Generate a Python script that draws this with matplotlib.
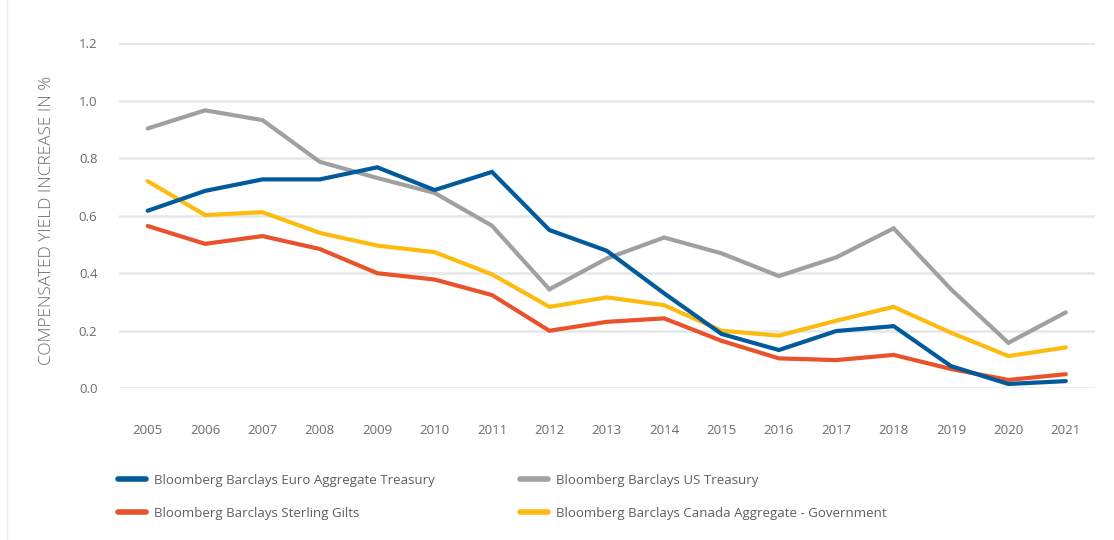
import matplotlib
matplotlib.use("Agg")
import matplotlib.pyplot as plt
from matplotlib.lines import Line2D

plt.rcParams['font.family'] = ['Open Sans', 'DejaVu Sans']

years = [str(y) for y in range(2005, 2022)]
euro = [0.617, 0.686, 0.726, 0.726, 0.768, 0.689, 0.752, 0.550, 0.478, 0.330,
        0.189, 0.133, 0.199, 0.216, 0.077, 0.015, 0.025]
us = [0.903, 0.966, 0.932, 0.787, 0.731, 0.679, 0.565, 0.344, 0.451, 0.524,
      0.469, 0.390, 0.455, 0.556, 0.344, 0.158, 0.264]
sterling = [0.564, 0.502, 0.529, 0.484, 0.400, 0.378, 0.324, 0.200, 0.231, 0.243,
            0.165, 0.104, 0.098, 0.116, 0.067, 0.029, 0.049]
canada = [0.720, 0.602, 0.612, 0.540, 0.496, 0.473, 0.396, 0.283, 0.316, 0.289,
          0.200, 0.183, 0.235, 0.283, 0.193, 0.112, 0.142]
yticks = [0.0, 0.2, 0.4, 0.6, 0.8, 1.0, 1.2]

names = ["Bloomberg Barclays Euro Aggregate Treasury",
         "Bloomberg Barclays US Treasury",
         "Bloomberg Barclays Sterling Gilts",
         "Bloomberg Barclays Canada Aggregate - Government"]
colors = ["#005A9B", "#A0A0A0", "#E9522B", "#FCBC0F"]
series = [euro, us, sterling, canada]
txt = '#6B6B6B'

W, H = 1114, 540
fig = plt.figure(figsize=(W / 100, H / 100), dpi=100)
ax = fig.add_axes([119 / W, 1 - 388.3 / H, (1094.5 - 119) / W, (388.3 - 43) / H])

x = list(range(len(years)))
order = [1, 3, 2, 0]
for i in order:
    ax.plot(x, series[i], color=colors[i], lw=3.0, solid_capstyle='round',
            solid_joinstyle='miter', label=names[i], zorder=3)

ax.set_xlim(-0.5, len(years) - 0.5)
ax.set_ylim(0, 1.2)
ax.set_yticks(yticks)
ax.set_yticklabels([f"{v:.1f}" for v in yticks])
ax.set_xticks(x)
ax.set_xticklabels(years)
ax.grid(axis='y', color='#E5E8E8', lw=1.8, zorder=0)
ax.grid(axis='x', visible=False)
ax.set_axisbelow(True)
for s in ax.spines.values():
    s.set_visible(False)
ax.tick_params(axis='both', length=0, labelsize=9.5, colors=txt)
ax.tick_params(axis='x', pad=25.5)
ax.tick_params(axis='y', pad=15.5)
ax.set_ylabel("COMPENSATED YIELD INCREASE IN %", fontsize=12.4, color=txt,
              fontweight='light')
ax.yaxis.set_label_coords(-0.066, 0.485)

h = [Line2D([], [], color=c, lw=4, solid_capstyle='round') for c in colors]
kw = dict(frameon=False, fontsize=9.5, labelcolor='#5E5E5E', handlelength=2.1,
          handletextpad=0.6, labelspacing=1.5, borderaxespad=0, borderpad=0)
fig.legend([h[0], h[2]], [names[0], names[2]], loc='upper left',
           bbox_to_anchor=(118 / W, 1 - 474 / H), **kw)
fig.legend([h[1], h[3]], [names[1], names[3]], loc='upper left',
           bbox_to_anchor=(520 / W, 1 - 474 / H), **kw)

fig.add_artist(Line2D([7 / W, 7 / W], [0, 1], transform=fig.transFigure,
                      color='#EEEEEE', lw=1))

fig.savefig("out.png", dpi=100, facecolor='white')
